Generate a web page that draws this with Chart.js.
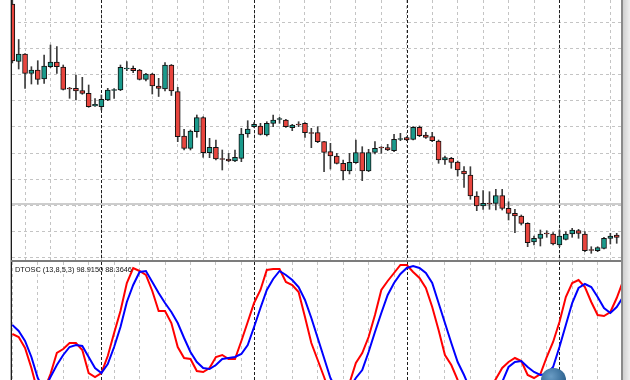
<!DOCTYPE html>
<html>
<head>
<meta charset="utf-8">
<title>DTOSC</title>
<script src="https://cdn.jsdelivr.net/npm/chart.js@4.4.0/dist/chart.umd.min.js"></script>
<style>
  html, body { margin: 0; padding: 0; background: #fff; }
  #wrap { position: relative; width: 630px; height: 380px; overflow: hidden; background: #fff; }
  #wrap canvas { position: absolute; left: 12px; }
  #price { top: 0; }
  #osc { top: 262px; }
  .edge { position: absolute; }
  #label { position: absolute; left: 15px; top: 266px; font: 7.4px "Liberation Sans", Arial, sans-serif; line-height: 8px; color: #111; white-space: nowrap; }
  #knob { position: absolute; left: 541px; top: 368px; width: 25px; height: 24px; border-radius: 12px;
          background: radial-gradient(circle at 40% 35%, #6a9cc4, #2d6390 70%); }
</style>
</head>
<body>
<div id="wrap">
  <canvas id="price" width="610" height="260"></canvas>
  <canvas id="osc" width="610" height="118"></canvas>
  <div class="edge" style="left:10px;top:0;width:1px;height:380px;background:#b4b4b4"></div>
  <div class="edge" style="left:11px;top:0;width:1px;height:380px;background:#1c1c1c"></div>
  <div class="edge" style="left:11px;top:260px;width:612px;height:2px;background:#7c7c7c"></div>
  <div class="edge" style="left:621px;top:0;width:2px;height:380px;background:#8a8a8a"></div>
  <div class="edge" style="left:623px;top:0;width:7px;height:380px;background:linear-gradient(to right,#cfcfcf,#efefef)"></div>
  <div id="label">DTOSC (13,8,5,3) 98.9150 88.3646</div>
  <div id="knob"></div>
</div>
<script>
// hourly bars, price in chart units (bar index 0..95)
const opens = [
  256, 198.5, 206, 186.7, 190, 181, 193.3, 198, 193, 172,
  171.7, 169.3, 166.7, 154, 153.3, 160, 169.5, 170, 191, 191.7,
  190, 180.7, 186, 174, 171, 195, 168.3, 124, 111.7, 128.3,
  142.3, 107.3, 112.7, 101.5, 101, 99, 101.7, 126, 133.3, 134,
  125, 136.7, 140.5, 140, 132.3, 136, 136.7, 127.5, 127.3, 118.3,
  108.3, 104, 96.7, 89, 97.3, 107.3, 89, 107.7, 113, 112.3,
  109.3, 120.5, 122.3, 120.7, 132.7, 125, 123.3, 119, 100, 101.7,
  98, 89, 85, 64, 54, 57, 56.7, 64.3, 51.7, 46.7,
  44, 36.7, 18, 21.7, 27, 26, 15, 20.7, 26, 29.3,
  26, 10.5, 9.3, 11.7, 21.7, 25
];
const highs = [
  262, 220.5, 206.5, 193.3, 199.3, 205, 215, 213.3, 195, 172.7,
  185, 182.7, 175, 161.3, 165, 171.7, 171.3, 195, 198.3, 194,
  190.7, 186.7, 186.7, 181.7, 197.3, 195.5, 172.7, 130.7, 130, 145,
  143.3, 121.7, 120, 110, 106.7, 110, 131.7, 139.3, 137.3, 136.7,
  138.3, 145, 142.7, 140.7, 135.7, 138.3, 137.3, 131.7, 133.3, 118.7,
  116.7, 106.7, 100, 106.7, 120, 113.3, 110.7, 118.3, 113.3, 115.7,
  125.7, 126.7, 123.3, 133.3, 134, 127.7, 127.7, 120, 104, 102.7,
  99, 93.3, 93.3, 68.3, 69.3, 68.3, 70.7, 70.7, 58.3, 50.7,
  45, 37.3, 24, 30, 29.3, 27.3, 30, 28.3, 31.7, 30.7,
  28.3, 13.3, 13.3, 22.7, 26.7, 26.7
];
const lows = [
  197, 191, 171.7, 176, 175.7, 176.7, 192.3, 186.7, 170, 161.7,
  160, 165.7, 152.7, 153.7, 150, 159.3, 161.7, 169.3, 189.3, 187.3,
  180, 179, 166, 163.5, 169, 164.5, 118.3, 110, 110, 122.7,
  102.7, 102.3, 100, 90, 98.3, 98.3, 98.3, 122.7, 132.7, 125,
  124, 133.3, 136.7, 132.7, 129.3, 133.3, 122.7, 112.3, 117.3, 88.3,
  91, 96, 80, 86, 96.7, 79.3, 88.3, 106, 106.7, 109.3,
  108.3, 119.3, 119.3, 120, 123.3, 121.7, 118.3, 96.7, 95.7, 91.7,
  84, 72.7, 60.7, 49.3, 50.7, 50.7, 50, 50, 40, 27.3,
  35, 13.3, 15, 14, 22.7, 15, 13.3, 20, 22.7, 21.7,
  8.3, 6.7, 8.3, 11, 16, 16.7
];
const closes = [
  199, 206, 186.7, 190, 180.7, 194, 198, 193.3, 170.7, 171,
  169, 166.7, 153.3, 155.7, 160.7, 170, 170.5, 192.7, 192, 189.3,
  180.7, 186, 174, 171.7, 195, 169, 123.3, 111.7, 129, 142.3,
  107.3, 112.7, 101, 100.5, 99, 102.7, 126, 131, 135.7, 125.7,
  136.7, 140, 141.5, 133.3, 135, 135, 127.3, 126.5, 118.3, 107.7,
  104, 96.7, 89, 97.7, 107.3, 89, 107.3, 111.7, 112, 110,
  120.7, 121.5, 120, 132.7, 124.3, 122.7, 119.3, 100, 102.3, 97.7,
  90, 86, 64, 54, 56.7, 56, 64.3, 51.7, 46.7, 44,
  36.7, 17.3, 21.7, 26, 26, 16, 24, 26, 30, 26.7,
  9.3, 9.5, 12.3, 21.7, 24, 22.7
];
// DTOSC lines (oscillator units, lower part runs off the panel); last value sits under the right edge
const dtoscMain = [
  46, 43, 32, 12, -12, -10, 6, 27, 31, 37,
  37, 30, 7, 3, 7, 24, 47, 69, 97, 112,
  109, 105, 89, 69, 69, 57, 33, 22, 21, 9,
  8, 12, 23, 25, 21, 21, 39, 58, 77, 90,
  110, 111, 111, 98, 95, 88, 63, 37, 20, 3,
  -15, -20, -18, -3, 17, 27, 43, 65, 90, 99,
  107, 115, 115, 108, 102, 92, 73, 50, 25, 15,
  0, -12, -20, -25, -20, -10, 1, 12, 18, 22,
  19, 5, 2, 6, 23, 38, 58, 83, 97, 100,
  93, 78, 65, 64, 68, 82, 99
];
const dtoscSignal = [
  55, 49, 39, 23, 2, -10, 3, 15, 25, 33,
  35, 34, 23, 12, 7, 16, 33, 53, 78, 95,
  108, 109, 98, 87, 77, 68, 57, 42, 28, 18,
  12, 11, 15, 21, 22, 23, 26, 35, 53, 72,
  90, 101, 109, 105, 100, 93, 80, 62, 42, 22,
  2, -10, -15, -8, 2, 10, 28, 48, 67, 85,
  97, 106, 112, 114, 112, 107, 97, 77, 57, 37,
  18, 5, -10, -20, -25, -20, -10, -2, 13, 18,
  19, 13, 8, 5, 6, 13, 33, 55, 77, 92,
  96, 93, 83, 72, 67, 73, 83
];
const daySeparators = [14, 38, 62, 86];
const gridBars = [0, 4, 8, 12, 16, 20, 24, 28, 32, 36, 40, 44, 48, 52, 56, 60, 64, 68, 72, 76, 80, 84, 88, 92];
const priceGrid = [2.6, 28.7, 54.8, 80.9, 107, 133.1, 159.2, 185.3, 211.4, 237.5];
const priceLevel = 56;

const UP = '#1a9a8c', DOWN = '#e8453e';
const X_MIN = -0.05, X_MAX = 95.83;

function xAxis() {
  return {
    type: 'linear', min: X_MIN, max: X_MAX, offset: false,
    afterBuildTicks: s => { s.ticks = gridBars.map(v => ({ value: v })); },
    ticks: { display: false },
    grid: { color: '#c4c4c4', lineWidth: 1, drawTicks: false },
    border: { display: false, dash: [3, 3] }
  };
}

const separators = {
  id: 'separators',
  beforeDatasetsDraw(chart) {
    const { ctx, chartArea, scales } = chart;
    ctx.save();
    const lvl = chart.options.plugins.separators.level;
    if (lvl !== undefined) {
      const y = Math.round(scales.y.getPixelForValue(lvl));
      ctx.strokeStyle = '#cdcdcd';
      ctx.lineWidth = 2;
      ctx.beginPath(); ctx.moveTo(chartArea.left, y); ctx.lineTo(chartArea.right, y); ctx.stroke();
    }
    ctx.strokeStyle = '#1e1e1e';
    ctx.lineWidth = 1;
    ctx.setLineDash([3, 2]);
    daySeparators.forEach(bar => {
      const x = Math.round(scales.x.getPixelForValue(bar)) + 0.5;
      ctx.beginPath(); ctx.moveTo(x, chartArea.top); ctx.lineTo(x, chartArea.bottom); ctx.stroke();
    });
    ctx.restore();
  }
};

const bodyColors = opens.map((o, i) => closes[i] >= o ? UP : DOWN);

new Chart(document.getElementById('price'), {
  type: 'bar',
  data: {
    datasets: [
      {
        label: 'body', order: 0, grouped: false, barThickness: 5,
        data: opens.map((o, i) => ({ x: i, y: [o, closes[i]] })),
        backgroundColor: bodyColors, borderColor: '#111', borderWidth: 1, borderSkipped: false
      },
      {
        label: 'wick', order: 1, grouped: false, barThickness: 1,
        data: lows.map((l, i) => ({ x: i, y: [l, highs[i]] })),
        backgroundColor: '#3c3c3c', borderWidth: 0
      }
    ]
  },
  options: {
    responsive: false, animation: false, events: [],
    layout: { padding: 0 },
    plugins: { legend: { display: false }, tooltip: { enabled: false }, separators: { level: priceLevel } },
    scales: {
      x: xAxis(),
      y: {
        type: 'linear', min: 0, max: 260,
        afterBuildTicks: s => { s.ticks = priceGrid.map(v => ({ value: v })); },
        ticks: { display: false },
        grid: { color: '#c4c4c4', lineWidth: 1, drawTicks: false },
        border: { display: false, dash: [3, 3] }
      }
    }
  },
  plugins: [separators]
});

new Chart(document.getElementById('osc'), {
  type: 'line',
  data: {
    datasets: [
      {
        label: 'signal', order: 0,
        data: dtoscSignal.map((v, i) => ({ x: i, y: v })),
        borderColor: '#0000ff', borderWidth: 2, pointRadius: 0, tension: 0, fill: false
      },
      {
        label: 'main', order: 1,
        data: dtoscMain.map((v, i) => ({ x: i, y: v })),
        borderColor: '#ff0000', borderWidth: 2, pointRadius: 0, tension: 0, fill: false
      }
    ]
  },
  options: {
    responsive: false, animation: false, events: [],
    layout: { padding: 0 },
    plugins: { legend: { display: false }, tooltip: { enabled: false }, separators: {} },
    scales: {
      x: xAxis(),
      y: { type: 'linear', min: 0, max: 118, display: false }
    }
  },
  plugins: [separators]
});
</script>
</body>
</html>
